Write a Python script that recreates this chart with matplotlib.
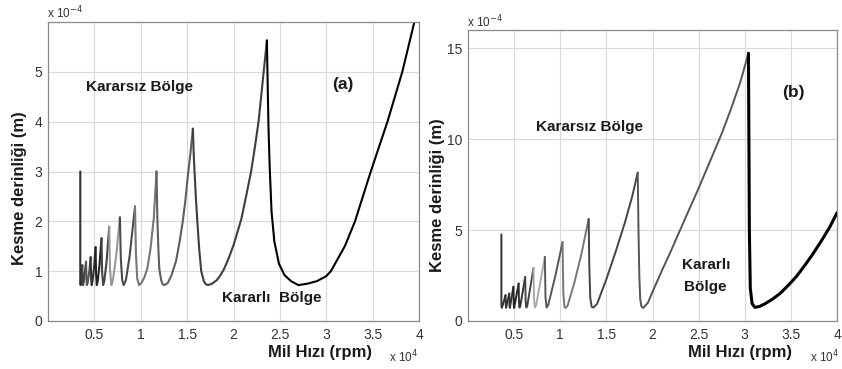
import matplotlib
matplotlib.use('Agg')
import matplotlib.pyplot as plt

plt.rcParams['font.family'] = ['Liberation Sans', 'DejaVu Sans']

# ---------------- data (x: spindle speed in 1e4 rpm, y: depth of cut in 1e-4 m) ----------------
# Panel (a): lobes, each from its left cusp to the next cusp
lobes_a_x = [
    [0.348, 0.348, 0.352, 0.360, 0.370],
    [0.370, 0.374, 0.378, 0.385, 0.410],
    [0.410, 0.415, 0.420, 0.430, 0.445, 0.460],
    [0.460, 0.465, 0.471, 0.480, 0.495, 0.513],
    [0.513, 0.518, 0.526, 0.536, 0.555, 0.577],
    [0.577, 0.583, 0.594, 0.607, 0.632, 0.660],
    [0.660, 0.668, 0.683, 0.700, 0.735, 0.775],
    [0.775, 0.785, 0.800, 0.815, 0.840, 0.880, 0.938],
    [0.938, 0.948, 0.962, 0.982, 1.010, 1.040, 1.070, 1.105, 1.140, 1.170],
    [1.170, 1.175, 1.180, 1.190, 1.200, 1.220, 1.235, 1.254, 1.290, 1.330, 1.380, 1.420,
     1.453, 1.480, 1.507, 1.535, 1.562],
    [1.562, 1.570, 1.580, 1.595, 1.610, 1.630, 1.652, 1.680, 1.700, 1.725, 1.770, 1.820,
     1.860, 1.900, 1.950, 2.000, 2.050, 2.085, 2.130, 2.190, 2.230, 2.270, 2.320, 2.360],
    [2.360, 2.368, 2.377, 2.390, 2.410, 2.440, 2.490, 2.550, 2.620, 2.700, 2.800, 2.900,
     3.000, 3.050, 3.200, 3.310, 3.480, 3.660, 3.820, 3.950, 4.000],
]
lobes_a_y = [
    [3.00, 0.80, 0.72, 0.90, 1.12],
    [1.12, 0.80, 0.72, 0.78, 1.19],
    [1.19, 0.82, 0.72, 0.79, 1.00, 1.28],
    [1.28, 0.86, 0.72, 0.80, 1.05, 1.48],
    [1.48, 0.95, 0.72, 0.80, 1.12, 1.66],
    [1.66, 1.00, 0.72, 0.80, 1.20, 1.89],
    [1.89, 1.05, 0.72, 0.82, 1.30, 2.08],
    [2.08, 1.25, 0.82, 0.72, 0.82, 1.30, 2.30],
    [2.30, 1.35, 0.85, 0.72, 0.77, 0.88, 1.05, 1.45, 2.05, 3.00],
    [3.00, 2.45, 2.00, 1.45, 1.05, 0.82, 0.74, 0.72, 0.76, 0.91, 1.20, 1.60,
     2.00, 2.40, 2.90, 3.35, 3.86],
    [3.86, 3.40, 3.00, 2.45, 2.00, 1.45, 1.00, 0.80, 0.74, 0.72, 0.75, 0.82,
     0.92, 1.05, 1.27, 1.52, 1.83, 2.05, 2.45, 3.00, 3.48, 4.00, 4.90, 5.63],
    [5.63, 4.80, 3.90, 3.10, 2.20, 1.60, 1.15, 0.92, 0.80, 0.72, 0.75, 0.80,
     0.90, 1.00, 1.50, 2.00, 3.00, 4.00, 5.00, 6.00, 6.40],
]
colors_a = ['#333333', '#444444', '#555555', '#333333', '#222222', '#444444',
            '#999999', '#4a4a4a', '#777777', '#5e5e5e', '#3e3e3e', '#000000']

# Panel (b)
lobes_b_x = [
    [0.362, 0.362, 0.366, 0.375, 0.390, 0.407],
    [0.407, 0.410, 0.413, 0.447],
    [0.447, 0.450, 0.454, 0.492],
    [0.492, 0.496, 0.500, 0.549],
    [0.549, 0.553, 0.558, 0.566, 0.620],
    [0.620, 0.625, 0.632, 0.642, 0.710],
    [0.710, 0.716, 0.725, 0.738, 0.833],
    [0.833, 0.840, 0.852, 0.870, 0.950, 1.025],
    [1.025, 1.033, 1.045, 1.060, 1.080, 1.150, 1.230, 1.308],
    [1.308, 1.315, 1.325, 1.340, 1.360, 1.400, 1.500, 1.600, 1.700, 1.780, 1.840],
    [1.840, 1.848, 1.857, 1.867, 1.880, 1.900, 1.950, 2.000, 2.100, 2.200, 2.290,
     2.500, 2.650, 2.750, 2.850, 2.950, 3.040],
    [3.040, 3.045, 3.050, 3.060, 3.080, 3.110, 3.160, 3.220, 3.300, 3.380, 3.470,
     3.560, 3.650, 3.740, 3.830, 3.920, 4.000],
]
lobes_b_y = [
    [4.76, 0.90, 0.72, 0.85, 1.10, 1.42],
    [1.42, 0.85, 0.72, 1.51],
    [1.51, 0.85, 0.72, 1.88],
    [1.88, 0.90, 0.72, 2.06],
    [2.06, 1.00, 0.74, 0.80, 2.42],
    [2.42, 1.10, 0.74, 0.82, 2.92],
    [2.92, 1.20, 0.74, 0.85, 3.52],
    [3.52, 1.30, 0.74, 0.88, 2.55, 4.34],
    [4.34, 1.60, 0.78, 0.72, 0.85, 2.05, 3.70, 5.61],
    [5.61, 3.00, 1.30, 0.78, 0.74, 0.95, 2.30, 3.80, 5.40, 6.85, 8.16],
    [8.16, 5.00, 2.50, 1.20, 0.80, 0.72, 1.00, 1.60, 2.75, 3.85, 4.90,
     7.30, 9.10, 10.30, 11.65, 13.10, 14.72],
    [14.72, 10.00, 5.00, 1.80, 0.95, 0.75, 0.80, 0.95, 1.20, 1.50, 1.95,
     2.45, 3.05, 3.70, 4.40, 5.15, 5.95],
]
colors_b = ['#333333', '#333333', '#333333', '#222222', '#333333', '#444444',
            '#aaaaaa', '#555555', '#777777', '#444444', '#555555', '#000000']
widths_b = [1.4] * 11 + [2.2]

xticks = [0.5, 1, 1.5, 2, 2.5, 3, 3.5, 4]
xtick_labels = ['0.5', '1', '1.5', '2', '2.5', '3', '3.5', '4']
yticks_a = [0, 1, 2, 3, 4, 5]
yticks_b = [0, 5, 10, 15]

# ---------------- figure ----------------
W, H = 842, 369
fig = plt.figure(figsize=(W / 100, H / 100), dpi=100)
fig.patch.set_facecolor('white')


def ax_px(l, t, r, b):
    return fig.add_axes([l / W, 1 - b / H, (r - l) / W, (b - t) / H])


axA = ax_px(48, 22, 419, 321)
axB = ax_px(468, 30, 837, 321)


def style(ax, ylim, yticks):
    ax.set_xlim(0, 4)
    ax.set_ylim(*ylim)
    ax.set_xticks(xticks)
    ax.set_xticklabels(xtick_labels)
    ax.set_yticks(yticks)
    ax.set_yticklabels([str(v) for v in yticks])
    ax.grid(True, color='#dadada', lw=0.8, ls='-')
    ax.set_axisbelow(True)
    for s in ax.spines.values():
        s.set_color('#8a8a8a')
        s.set_linewidth(0.9)
    ax.tick_params(length=0, labelsize=10, labelcolor='#333333')
    ax.tick_params(axis='x', pad=5)
    ax.tick_params(axis='y', pad=4)


for xs, ys, c in zip(lobes_a_x, lobes_a_y, colors_a):
    axA.plot(xs, ys, color=c, lw=1.5, solid_joinstyle='round', solid_capstyle='round')
for xs, ys, c, w in zip(lobes_b_x, lobes_b_y, colors_b, widths_b):
    axB.plot(xs, ys, color=c, lw=w, solid_joinstyle='round', solid_capstyle='round')

style(axA, (0, 6), yticks_a)
style(axB, (0, 16), yticks_b)

bold = dict(fontweight='bold', color='#1a1a1a')

# panel (a) texts
fig.text(140 / W, 1 - 87 / H, 'Kararsız Bölge', ha='center', va='center', fontsize=11, **bold)
fig.text(343 / W, 1 - 85 / H, '(a)', ha='center', va='center', fontsize=12.5, **bold)
fig.text(272 / W, 1 - 298 / H, 'Kararlı  Bölge', ha='center', va='center', fontsize=11, **bold)
fig.text(20 / W, 1 - 188 / H, 'Kesme derinliği (m)', ha='center', va='center', rotation=90,
         fontsize=12, **bold)
fig.text(320 / W, 1 - 352 / H, 'Mil Hızı (rpm)', ha='center', va='center', fontsize=12, **bold)
fig.text(418 / W, 1 - 357 / H, 'x 10$^{4}$', ha='right', va='center', fontsize=8.5, color='#333333')
fig.text(47 / W, 1 - 13 / H, 'x 10$^{-4}$', ha='left', va='center', fontsize=8.5, color='#333333')

# panel (b) texts
fig.text(589 / W, 1 - 127 / H, 'Kararsız Bölge', ha='center', va='center', fontsize=11, **bold)
fig.text(793 / W, 1 - 92 / H, '(b)', ha='center', va='center', fontsize=12.5, **bold)
fig.text(706 / W, 1 - 265 / H, 'Kararlı', ha='center', va='center', fontsize=11, **bold)
fig.text(705 / W, 1 - 287 / H, 'Bölge', ha='center', va='center', fontsize=11, **bold)
fig.text(438 / W, 1 - 195 / H, 'Kesme derinliği (m)', ha='center', va='center', rotation=90,
         fontsize=12, **bold)
fig.text(740 / W, 1 - 352 / H, 'Mil Hızı (rpm)', ha='center', va='center', fontsize=12, **bold)
fig.text(839 / W, 1 - 357 / H, 'x 10$^{4}$', ha='right', va='center', fontsize=8.5, color='#333333')
fig.text(467 / W, 1 - 22 / H, 'x 10$^{-4}$', ha='left', va='center', fontsize=8.5, color='#333333')

fig.savefig('out.png', dpi=100, facecolor='white')
